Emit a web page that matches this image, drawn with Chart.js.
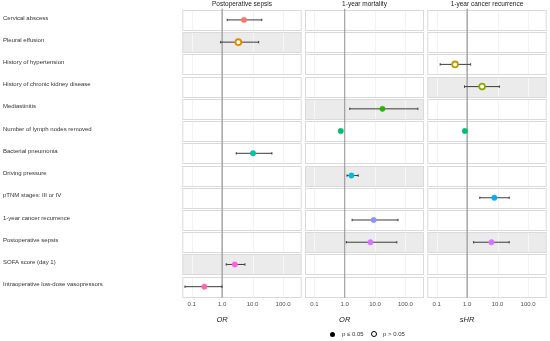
<!DOCTYPE html>
<html><head><meta charset="utf-8">
<script src="https://cdn.jsdelivr.net/npm/chart.js@4.4.1/dist/chart.umd.min.js"></script>
<style>
html,body{margin:0;padding:0;background:#fff;}
#wrap{position:relative;width:550px;height:341px;overflow:hidden;font-family:"Liberation Sans",Arial,sans-serif;}
canvas{position:absolute;top:0;}
.axt{position:absolute;top:315px;font-style:italic;font-size:7.5px;line-height:9px;color:#1a1a1a;transform:translateX(-50%);white-space:nowrap;}
.lg{position:absolute;font-size:6px;line-height:8px;color:#333;white-space:nowrap;}
.dot{position:absolute;border-radius:50%;box-sizing:border-box;}
</style></head>
<body><div id="wrap">
<canvas id="c0" width="304" height="341" style="left:0px"></canvas>
<canvas id="c1" width="122" height="341" style="left:304px"></canvas>
<canvas id="c2" width="124" height="341" style="left:426px"></canvas>
<div class="axt" id="t0"></div>
<div class="axt" id="t1"></div>
<div class="axt" id="t2"></div>
<div class="dot" style="left:330.2px;top:331.5px;width:5px;height:5px;background:#000;"></div>
<div class="lg" id="lg1" style="left:342px;top:330px;"></div>
<div class="dot" style="left:371.3px;top:331px;width:6px;height:6px;border:1.7px solid #000;"></div>
<div class="lg" id="lg2" style="left:383px;top:330px;"></div>
</div>
<script>
// ---------- data ----------
const rows = [
  "Cervical abscess",
  "Pleural effusion",
  "History of hypertension",
  "History of chronic kidney disease",
  "Mediastinitis",
  "Number of lymph nodes removed",
  "Bacterial pneumonia",
  "Driving pressure",
  "pTNM stages: III or IV",
  "1-year cancer recurrence",
  "Postoperative sepsis",
  "SOFA score (day 1)",
  "Intraoperative low-dose vasopressors"
];
const panelTitles = ["Postoperative sepsis", "1-year mortality", "1-year cancer recurrence"];
const axisTitles = ["OR", "OR", "sHR"];
const legendLabels = ["p \u2264 0.05", "p > 0.05"];
const tickValues = [0.1, 1, 10, 100];
const tickLabels = ["0.1", "1.0", "10.0", "100.0"];
const colors = ["#F8766D","#E18A00","#BE9C00","#8CAB00","#24B700","#00BE70","#00C1AB","#00BBDA","#00ACFC","#8B93FF","#D575FE","#F962DD","#FF65AC"];

// Postoperative sepsis (OR)
const sepsisEst  = [5.2, 3.4, null, null, null, null, 10.3, null, null, null, null, 2.6, 0.26];
const sepsisLow  = [1.47, 0.89, null, null, null, null, 2.9, null, null, null, null, 1.36, 0.06];
const sepsisHigh = [20, 15.8, null, null, null, null, 43, null, null, null, null, 5.6, 0.99];
const sepsisSig  = [1, 0, 0, 0, 0, 0, 1, 0, 0, 0, 0, 1, 1];
const sepsisShaded = [0, 1, 0, 0, 0, 0, 0, 0, 0, 0, 0, 1, 0];

// 1-year mortality (OR)
const mortEst  = [null, null, null, null, 17.5, 0.74, null, 1.66, null, 9.0, 7.0, null, null];
const mortLow  = [null, null, null, null, 1.47, 0.70, null, 1.19, null, 1.75, 1.13, null, null];
const mortHigh = [null, null, null, null, 257, 0.78, null, 2.78, null, 57, 52, null, null];
const mortSig  = [0, 0, 0, 0, 1, 1, 0, 1, 0, 1, 1, 0, 0];
const mortShaded = [0, 0, 0, 0, 1, 0, 0, 1, 0, 0, 1, 0, 0];

// 1-year cancer recurrence (sHR)
const recEst  = [null, null, 0.40, 3.1, null, 0.84, null, null, 7.8, null, 6.3, null, null];
const recLow  = [null, null, 0.13, 0.82, null, 0.82, null, null, 2.6, null, 1.63, null, null];
const recHigh = [null, null, 1.3, 11.4, null, 0.86, null, null, 24, null, 24, null, null];
const recSig  = [0, 0, 0, 0, 0, 1, 0, 0, 1, 0, 1, 0, 0];
const recShaded = [0, 0, 0, 1, 0, 0, 0, 0, 0, 0, 1, 0, 0];

// ---------- drawing ----------
Chart.defaults.font.family = '"Liberation Sans", Arial, sans-serif';
Chart.defaults.animation = false;

const boxPlugin = {
  id: 'rowBoxes',
  beforeDatasetsDraw(chart, args, opts) {
    const {ctx, chartArea: a, scales: {x, y}} = chart;
    const n = rows.length;
    const band = (y.bottom - y.top) / n;
    ctx.save();
    for (let i = 0; i < n; i++) {
      const yc = y.getPixelForValue(i);
      const top = Math.round(yc - band / 2 + 1.1) + 0.5;
      const h = Math.round(band - 2.4);
      ctx.fillStyle = opts.shaded[i] ? '#EBEBEB' : '#FFFFFF';
      ctx.fillRect(a.left + 0.5, top, a.right - a.left - 1, h);
      tickValues.forEach(v => {
        if (v === 1) return;
        const px = Math.round(x.getPixelForValue(v)) + 0.5;
        ctx.strokeStyle = opts.shaded[i] ? '#FAFAFA' : '#EEEEEE';
        ctx.lineWidth = 0.7;
        ctx.beginPath(); ctx.moveTo(px, top); ctx.lineTo(px, top + h); ctx.stroke();
      });
      ctx.strokeStyle = '#DADADA';
      ctx.lineWidth = 1;
      ctx.strokeRect(a.left + 0.5, top, a.right - a.left - 1, h);
    }
    const rx = x.getPixelForValue(1);
    ctx.strokeStyle = opts.refColor;
    ctx.lineWidth = opts.refWidth;
    ctx.beginPath(); ctx.moveTo(rx, a.top); ctx.lineTo(rx, a.bottom); ctx.stroke();
    ctx.restore();
  }
};

function buildDatasets(est, lo, hi, sig) {
  const ds = [];
  const pts = [], bg = [], bc = [], bw = [], rad = [];
  est.forEach((v, i) => {
    if (v == null) return;
    pts.push({x: v, y: rows[i]});
    bg.push(sig[i] ? colors[i] : '#FFFFFF');
    bc.push(colors[i]);
    bw.push(sig[i] ? 0.5 : 1.8);
    rad.push(sig[i] ? 2.7 : 2.9);
    ds.push({
      data: [{x: lo[i], y: rows[i]}, {x: hi[i], y: rows[i]}],
      showLine: true, borderColor: '#3c3c3c', borderWidth: 1,
      pointStyle: 'line', rotation: 90, pointRadius: 1.2,
      pointBorderColor: '#3c3c3c', pointBorderWidth: 1, order: 2
    });
  });
  ds.push({data: pts, pointBackgroundColor: bg, pointBorderColor: bc,
           pointBorderWidth: bw, pointRadius: rad, order: 0});
  return ds;
}

const padsLR = [[3, 2.3], [1, 2], [1.3, 3.3]];
const series = [
  [sepsisEst, sepsisLow, sepsisHigh, sepsisSig, sepsisShaded],
  [mortEst, mortLow, mortHigh, mortSig, mortShaded],
  [recEst, recLow, recHigh, recSig, recShaded]
];
const offsets = [0, 304, 426];

series.forEach((s, p) => {
  const chart = new Chart(document.getElementById('c' + p), {
    type: 'scatter',
    data: {datasets: buildDatasets(s[0], s[1], s[2], s[3])},
    options: {
      responsive: false,
      events: [],
      layout: {autoPadding: false, padding: {left: padsLR[p][0], right: padsLR[p][1], top: 0, bottom: 30}},
      plugins: {
        legend: {display: false},
        tooltip: {enabled: false},
        title: {display: true, text: panelTitles[p], fullSize: false,
                font: {size: 6.5, weight: 'normal'}, color: '#1A1A1A',
                padding: {top: 0.5, bottom: 0.5}},
        rowBoxes: {shaded: s[4], refColor: p === 1 ? '#8F8F8F' : '#ABABAB', refWidth: p === 1 ? 1 : 1.6}
      },
      scales: {
        x: {
          type: 'logarithmic', min: 0.049, max: 410,
          afterBuildTicks(sc) { sc.ticks = tickValues.map(v => ({value: v})); },
          afterFit(sc) { sc.paddingLeft = 0; sc.paddingRight = 0; },
          ticks: {callback: (v, i) => tickLabels[i], font: {size: 6}, color: '#4D4D4D',
                  padding: 3, autoSkip: false, maxRotation: 0},
          grid: {display: false, drawTicks: false},
          border: {display: false}
        },
        y: {
          type: 'category', labels: rows, offset: true, display: p === 0,
          grid: {display: false, drawTicks: false},
          border: {display: false},
          ticks: {crossAlign: 'far', font: {size: 6}, color: '#333333', padding: 0,
                  autoSkip: false, labelOffset: -2},
          afterFit(sc) { if (p === 0) sc.width = 179.3; }
        }
      }
    },
    plugins: [boxPlugin]
  });
  const t = document.getElementById('t' + p);
  t.textContent = axisTitles[p];
  t.style.left = (offsets[p] + chart.scales.x.getPixelForValue(1)) + 'px';
});
document.getElementById('lg1').textContent = legendLabels[0];
document.getElementById('lg2').textContent = legendLabels[1];
</script>
</body></html>
